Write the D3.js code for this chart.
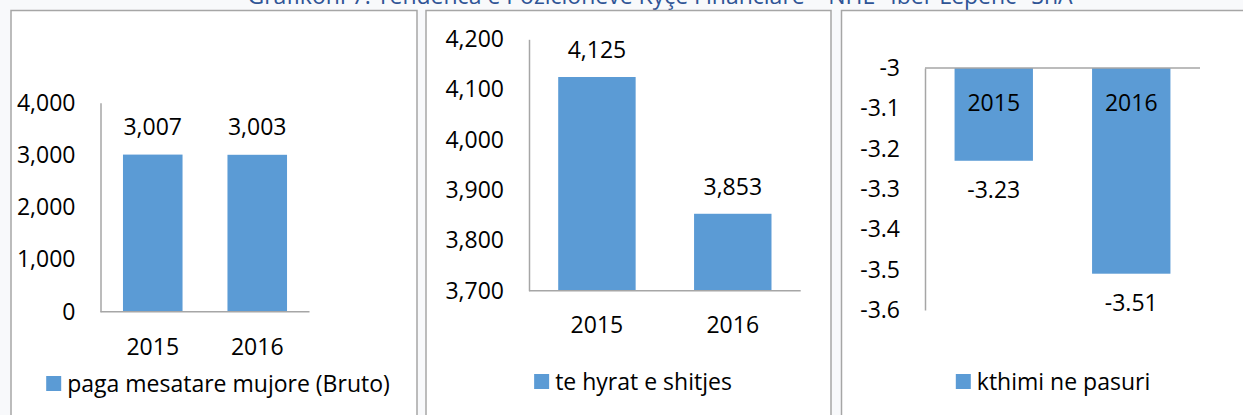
<!DOCTYPE html>
<html>
<head>
<meta charset="utf-8">
<script src="https://cdn.jsdelivr.net/npm/d3@7"></script>
<style>
  html, body { margin: 0; padding: 0; background: #f8f9fb; }
  svg { display: block; font-family: "Open Sans", sans-serif; }
</style>
</head>
<body>
<svg id="chart" width="1243" height="415"></svg>
<script>
const titleText = "Grafikoni 7: Tendenca e Pozicioneve Kyçe Financiare – NHE \"Iber Lepenc\" ShA";
const years = ["2015", "2016"];

const wageValues = [3007, 3003];
const wageTicks = [0, 1000, 2000, 3000, 4000];
const wageName = "paga mesatare mujore (Bruto)";

const salesValues = [4125, 3853];
const salesTicks = [3700, 3800, 3900, 4000, 4100, 4200];
const salesName = "te hyrat e shitjes";

const roaValues = [-3.23, -3.51];
const roaTicks = [-3, -3.1, -3.2, -3.3, -3.4, -3.5, -3.6];
const roaName = "kthimi ne pasuri";

const barColor = "#5b9bd5";
const axisColor = "#a6a6a6";
const fs = 23;

const svg = d3.select("#chart");

// title, cut off at the top like the source
svg.append("text")
  .attr("x", 660).attr("y", 4)
  .attr("text-anchor", "middle")
  .attr("font-size", 23)
  .attr("fill", "#2f5496")
  .text(titleText);

// panel frames
const frames = [[11, 406], [426, 405], [841.5, 420]];
frames.forEach(([x, w]) => {
  svg.append("rect")
    .attr("x", x).attr("y", 10.5).attr("width", w).attr("height", 420)
    .attr("fill", "#fff").attr("stroke", axisColor).attr("stroke-width", 1.5);
});

function drawPanel(opt) {
  const g = svg.append("g");
  const x = d3.scaleBand().domain(years).range([opt.left, opt.right]).paddingInner(0.43).paddingOuter(0.215);
  const y = d3.scaleLinear().domain(opt.domain).range([opt.bottom, opt.top]);
  const fmt = opt.fmt;

  // bars
  g.selectAll("rect.bar")
    .data(opt.values)
    .join("rect")
    .attr("class", "bar")
    .attr("x", (d, i) => x(years[i]))
    .attr("width", x.bandwidth())
    .attr("y", d => Math.min(y(d), y(opt.base)))
    .attr("height", d => Math.abs(y(d) - y(opt.base)))
    .attr("fill", barColor);

  // y axis
  const ya = g.append("g")
    .attr("transform", `translate(${opt.left},0)`)
    .call(d3.axisLeft(y).tickValues(opt.ticks).tickFormat(fmt).tickSize(0).tickPadding(25));
  ya.select(".domain").attr("stroke", axisColor).attr("stroke-width", 1.5);
  ya.selectAll("text").attr("font-size", fs).attr("font-family", "Open Sans").attr("fill", "#000");

  // category axis line
  const baseY = y(opt.base);
  g.append("line")
    .attr("x1", opt.left).attr("x2", opt.right)
    .attr("y1", baseY).attr("y2", baseY)
    .attr("stroke", axisColor).attr("stroke-width", 1.5);

  // category labels
  g.selectAll("text.cat")
    .data(years)
    .join("text")
    .attr("class", "cat")
    .attr("x", d => x(d) + x.bandwidth() / 2)
    .attr("y", baseY + opt.catOffset)
    .attr("dy", "0.35em")
    .attr("text-anchor", "middle")
    .attr("font-size", fs)
    .text(d => d);

  // value labels
  g.selectAll("text.val")
    .data(opt.values)
    .join("text")
    .attr("class", "val")
    .attr("x", (d, i) => x(years[i]) + x.bandwidth() / 2)
    .attr("y", d => y(d) + opt.valOffset)
    .attr("dy", "0.35em")
    .attr("text-anchor", "middle")
    .attr("font-size", fs)
    .text(d => fmt(d));

  // legend
  const lg = g.append("g");
  lg.append("rect").attr("x", 0).attr("y", -7.5).attr("width", 15).attr("height", 15).attr("fill", barColor);
  const lt = lg.append("text").attr("x", 21).attr("dy", "0.35em").attr("font-size", fs).text(opt.name);
  const w = 21 + lt.node().getComputedTextLength();
  lg.attr("transform", `translate(${opt.legendCenter - w / 2},${opt.legendY})`);
}

drawPanel({
  values: wageValues, ticks: wageTicks, name: wageName,
  domain: [0, 4000], base: 0,
  left: 100.5, right: 309.5, top: 102.7, bottom: 311.7,
  fmt: d3.format(","), catOffset: 35, valOffset: -28,
  legendCenter: 218, legendY: 383.5
});

drawPanel({
  values: salesValues, ticks: salesTicks, name: salesName,
  domain: [3700, 4200], base: 3700,
  left: 529, right: 800.7, top: 39.3, bottom: 290.7,
  fmt: d3.format(","), catOffset: 34.5, valOffset: -27,
  legendCenter: 633, legendY: 381.5
});

drawPanel({
  values: roaValues, ticks: roaTicks, name: roaName,
  domain: [-3.6, -3], base: -3,
  left: 925, right: 1200, top: 68, bottom: 310,
  fmt: d => String(d), catOffset: 34.7, valOffset: 29.5,
  legendCenter: 1053, legendY: 381.5
});
</script>
</body>
</html>
